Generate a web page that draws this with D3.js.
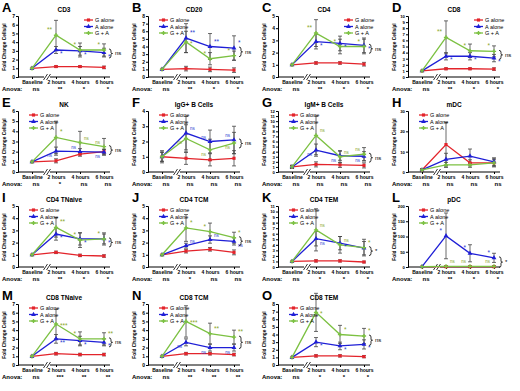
<!DOCTYPE html>
<html>
<head>
<meta charset="utf-8">
<script src="https://d3js.org/d3.v7.min.js"></script>
<style>
  body { margin: 0; background: #fff; }
  svg { font-family: "Liberation Sans", Arial, sans-serif; }
</style>
</head>
<body>
<div id="chart"></div>
<script>
// ---- data ----
const letters = ["A","B","C","D","E","F","G","H","I","J","K","L","M","N","O"];
const titles = ["CD3","CD20","CD4","CD8","NK","IgG+ B Cells","IgM+ B Cells","mDC",
                "CD4 TNaive","CD4 TCM","CD4 TEM","pDC","CD8 TNaive","CD8 TCM","CD8 TEM"];
const timepoints = ["Baseline","2 hours","4 hours","6 hours"];
const yMax = [7,8,5,10,6,4,12,30,5,5,11,200,7,7,8];
const yStep = [1,1,1,1,1,1,1,10,1,1,1,50,1,1,1];

const gAlone = [[1,1.2,1.2,1.1],[1,1.1,1.0,0.9],[1,1.15,1.15,1.05],[1,1.35,1.35,1.3],
  [1,1.1,1.75,2.0],[1,0.9,0.8,0.9],[1,1.5,1.4,1.3],[1,13.5,4.5,4.5],
  [1,1.2,0.95,0.9],[1,1.3,1.45,1.2],[1,1.1,1.1,0.9],[1,1,1,1],
  [1,1.3,1.2,1.2],[1,1.3,1.3,1.2],[1,1.2,1.2,1.1]];
const aAlone = [[1,3.1,3.0,2.8],[1,5.1,4.0,3.8],[1,2.9,2.75,2.6],[1,3.4,3.4,3.1],
  [1,2.05,2.0,1.95],[1,2.55,2.0,2.1],[1,4.3,3.2,3.1],[1,6.2,7.8,5.0],
  [1,2.7,2.3,2.3],[1,1.75,2.25,2.1],[1,5.1,4.3,3.4],[1,102,45,30],
  [1,3.0,2.8,2.6],[1,2.6,2.0,2.0],[1,3.0,2.5,2.7]];
const gPlusA = [[1,4.8,3.1,3.1],[1,4.6,2.4,2.8],[1,3.6,2.5,2.5],[1,6.5,4.3,4.2],
  [1,3.4,2.9,2.5],[1,2.2,1.45,1.9],[1,7.2,3.0,3.5],[1,3.5,3.5,4.5],
  [1,3.25,2.2,2.3],[1,3.2,2.9,2.4],[1,6.7,4.0,3.5],[1,2,2,2],
  [1,4.7,3.0,3.0],[1,5.0,3.6,3.2],[1,6.9,4.0,3.8]];

const gErr = [[0,.1,.1,.15],[0,.3,.3,.3],[0,.1,.1,.15],[0,.15,.15,.2],
  [0,.2,.2,.2],[.3,.4,.4,.5],[.3,.5,.5,.5],[.5,11,1.5,1.5],
  [0,.1,.1,.1],[0,.15,.15,.2],[0,.2,.2,.15],[0,1,1,1],
  [0,.15,.15,.15],[0,.15,.15,.15],[0,.15,.15,.15]];
const aErr = [[0,.4,.5,.5],[0,1.9,1.7,1.6],[0,.6,.6,.6],[0,.6,.6,.6],
  [0,.4,.3,.3],[.4,1.1,.75,.9],[.3,1.2,.9,.9],[.5,3,3.5,2],
  [0,.5,.5,.4],[0,.2,.3,.3],[0,1.3,1.2,1.2],[0,75,28,15],
  [0,.5,.5,.4],[0,.4,.4,.4],[0,.6,.5,.6]];
const gaErr = [[0,1.7,.8,.7],[0,1.4,.8,.6],[0,1.1,.6,.6],[0,2.7,1.1,.9],
  [0,1.6,1.1,.8],[.3,.9,.7,.7],[.3,3.8,1.2,1.3],[.5,1.2,1.2,2],
  [0,.8,.6,.5],[0,1.1,.7,.45],[0,3.8,1.5,1.5],[0,2,2,2],
  [0,1.7,.8,.7],[0,1.8,1.2,.8],[0,2.5,1.2,1.0]];

const anova = [["ns","**","*","*"],["ns","**","*","*"],["ns","**","*","*"],["ns","**","*","*"],
  ["ns","*","ns","ns"],["ns","ns","ns","ns"],["ns","ns","ns","ns"],["ns","ns","ns","ns"],
  ["ns","**","*","*"],["ns","*","ns","ns"],["ns","*","*","*"],["ns","**","*","*"],
  ["ns","***","**","**"],["ns","**","**","**"],["ns","*","*","*"]];
const bracketText = ["ns","ns","ns","ns","ns","ns","ns","","ns","ns","*","*","ns","ns","ns"];
const legendRight = [true,false,true,true,false,false,false,false,false,false,false,false,false,false,false];

// significance marks: [time index, series, text, corner]
const marks = [
  [[1,"ga","**","ul"],[2,"ga","*","ul"],[3,"ga","*","ul"],[1,"a","*","dr"],[2,"a","*","dr"],[3,"a","*","dr"]],
  [[1,"ga","*","mr"],[2,"ga","*","ul"],[3,"ga","*","ul"],[1,"a","**","ur"],[2,"a","**","ur"],[3,"a","*","ur"]],
  [[1,"ga","**","ul"],[2,"ga","*","ul"],[3,"ga","*","ul"],[1,"a","*","dr"],[2,"a","*","dr"],[3,"a","*","dr"]],
  [[1,"ga","**","ul"],[2,"ga","*","ul"],[3,"ga","*","ul"],[1,"a","*","dr"],[2,"a","*","dr"],[3,"a","*","dr"]],
  [[1,"ga","*","ur"],[2,"ga","ns","ur"],[3,"ga","ns","ul"],[1,"a","ns","dl"],[2,"a","ns","ul"],[3,"a","ns","dl"]],
  [[1,"a","ns","ur"],[2,"a","ns","ul"],[3,"a","ns","ul"],[1,"ga","ns","dl"],[2,"ga","ns","dl"],[3,"ga","ns","dl"]],
  [[1,"ga","ns","ur"],[2,"ga","ns","ur"],[3,"ga","ns","ul"],[1,"a","ns","dl"],[2,"a","ns","dl"],[3,"a","ns","dl"]],
  [],
  [[1,"ga","**","ur"],[2,"ga","*","ul"],[3,"ga","*","ul"],[1,"a","*","dr"],[2,"a","*","dr"],[3,"a","*","dr"]],
  [[1,"ga","*","ur"],[2,"ga","*","ul"],[3,"ga","*","ur"],[1,"a","ns","ur"],[2,"a","ns","ur"],[3,"a","ns","dr"]],
  [[1,"ga","ns","ur"],[2,"ga","ns","ur"],[3,"ga","*","ur"],[1,"a","ns","dr"],[2,"a","*","dr"]],
  [[1,"a","*","ul"],[2,"a","*","ul"],[3,"a","*","ul"],[1,"ga","ns","ur"],[2,"ga","ns","ul"],[3,"ga","ns","ul"]],
  [[1,"ga","***","mr"],[2,"ga","*","ul"],[3,"ga","**","ur"],[1,"a","**","dr"],[2,"a","*","dr"],[3,"a","*","dr"]],
  [[1,"ga","***","mr"],[2,"ga","**","ur"],[3,"ga","**","ur"],[1,"a","ns","dl"],[2,"a","ns","dl"],[3,"a","ns","dl"]],
  [[1,"ga","*","mr"],[2,"ga","*","ur"],[3,"ga","*","ur"],[1,"a","*","dr"],[2,"a","*","dr"],[3,"a","*","dr"]]
];

const seriesNames = ["G alone","A alone","G + A"];
const colors = {g:"#e3242b", a:"#1f1fd6", ga:"#7cc142"};
const markColors = {g:"#e3242b", a:"#2c3ccf", ga:"#8aa62a"};

// ---- layout ----
const W = 520, H = 391;
const colX = [0,130,260,390];
const rowY = [0,95,190,288];

const svg = d3.select("#chart").append("svg").attr("width", W).attr("height", H);

const sym = {
  g: d3.symbol().type(d3.symbolSquare).size(10),
  a: d3.symbol().type(d3.symbolTriangle).size(10),
  ga: d3.symbol().type(d3.symbolCross).size(10)
};

letters.forEach(function(L, i) {
  const px = colX[i % 4], py = rowY[Math.floor(i / 4)];
  const g = svg.append("g").attr("transform", "translate(" + px + "," + py + ")");

  g.append("text").attr("x", 2).attr("y", 12).attr("font-size", 13).attr("font-weight", "bold").text(L);
  g.append("text").attr("x", 64).attr("y", 12).attr("text-anchor", "middle")
    .attr("font-size", 6.5).attr("font-weight", "bold").text(titles[i]);

  const x = d3.scalePoint().domain(timepoints).range([32, 104]);
  const y = d3.scaleLinear().domain([0, yMax[i]]).range([77, 16]);
  const ticks = d3.range(0, yMax[i] + 0.001, yStep[i]);

  // axes
  const ya = g.append("g").attr("transform", "translate(18,0)")
    .call(d3.axisLeft(y).tickValues(ticks).tickSize(2).tickPadding(1).tickFormat(d3.format("d")));
  const xa = g.append("g").attr("transform", "translate(0,77)")
    .call(d3.axisBottom(x).tickSize(2).tickPadding(1));
  [ya, xa].forEach(function(a) {
    a.select(".domain").attr("stroke", "#000").attr("stroke-width", 1);
    a.selectAll("line").attr("stroke", "#000");
    a.selectAll("text").attr("font-size", 5).attr("font-weight", "bold")
      .attr("font-family", "Liberation Sans, Arial, sans-serif");
  });
  ya.selectAll("text").attr("font-size", yMax[i] > 9 ? 4.3 : 5);
  xa.select(".domain").attr("d", "M18,0H110");

  // axis break
  const bx = (x("Baseline") + x("2 hours")) / 2 + 3;
  g.append("rect").attr("x", bx - 3).attr("y", 75).attr("width", 6).attr("height", 5).attr("fill", "#fff");
  [-1.5, 1.5].forEach(function(o) {
    g.append("line").attr("x1", bx + o - 2).attr("y1", 80).attr("x2", bx + o + 2).attr("y2", 74)
      .attr("stroke", "#000").attr("stroke-width", 0.8);
  });

  // y label
  g.append("text").attr("transform", "translate(6,47) rotate(-90)").attr("text-anchor", "middle")
    .attr("font-size", 4.8).attr("font-weight", "bold").text("Fold Change Cells/µl");

  // anova row
  g.append("text").attr("x", 2).attr("y", 91).attr("font-size", 6).attr("font-weight", "bold").text("Anova:");
  timepoints.forEach(function(t, k) {
    g.append("text").attr("x", x(t) + 4).attr("y", 91).attr("text-anchor", "middle")
      .attr("font-size", 6).attr("font-weight", "bold").text(anova[i][k]);
  });

  const series = [
    {key: "g", v: gAlone[i], e: gErr[i]},
    {key: "a", v: aAlone[i], e: aErr[i]},
    {key: "ga", v: gPlusA[i], e: gaErr[i]}
  ];
  const line = d3.line().x(function(d, k) { return x(timepoints[k]); }).y(function(d) { return y(d); });

  // error bars
  series.forEach(function(s) {
    s.v.forEach(function(v, k) {
      if (!s.e[k]) return;
      const cx = x(timepoints[k]);
      const lo = y(Math.max(0, v - s.e[k])), hi = y(v + s.e[k]);
      const eb = g.append("g").attr("stroke", "#444").attr("stroke-width", 0.8);
      eb.append("line").attr("x1", cx).attr("x2", cx).attr("y1", lo).attr("y2", hi);
      eb.append("line").attr("x1", cx - 2).attr("x2", cx + 2).attr("y1", lo).attr("y2", lo);
      eb.append("line").attr("x1", cx - 2).attr("x2", cx + 2).attr("y1", hi).attr("y2", hi);
    });
  });

  // lines and markers
  series.forEach(function(s) {
    g.append("path").attr("d", line(s.v)).attr("fill", "none")
      .attr("stroke", colors[s.key]).attr("stroke-width", 1.3);
    g.selectAll(null).data(s.v).enter().append("path")
      .attr("d", sym[s.key])
      .attr("transform", function(d, k) { return "translate(" + x(timepoints[k]) + "," + y(d) + ")"; })
      .attr("fill", colors[s.key]);
  });

  // significance marks
  const vals = {g: gAlone[i], a: aAlone[i], ga: gPlusA[i]};
  marks[i].forEach(function(m) {
    const cx = x(timepoints[m[0]]), cy = y(vals[m[1]][m[0]]);
    const dx = m[3][1] === "l" ? -4 : 4;
    const dy = m[3][0] === "u" ? -3 : (m[3][0] === "m" ? 4 : 6);
    g.append("text").attr("x", cx + dx).attr("y", cy + dy)
      .attr("text-anchor", dx < 0 ? "end" : "start")
      .attr("font-size", m[2] === "ns" ? 4.5 : 6.5).attr("fill", markColors[m[1]]).text(m[2]);
  });

  // bracket at 6 h
  if (bracketText[i]) {
    const y1 = Math.min(y(aAlone[i][3]), y(gPlusA[i][3])) - 1;
    const y2 = Math.max(y(aAlone[i][3]), y(gPlusA[i][3]), y1 + 8) + 1;
    const bxr = 109, ym = (y1 + y2) / 2;
    g.append("path").attr("fill", "none").attr("stroke", "#000").attr("stroke-width", 0.8)
      .attr("d", "M" + bxr + "," + y1 + " q2,0 2,2 v" + (ym - y1 - 3) + " q0,1 1.5,1 q-1.5,0 -1.5,1 v" +
        (y2 - ym - 3) + " q0,2 -2,2");
    g.append("text").attr("x", 115).attr("y", ym + 2).attr("font-size", 6).text(bracketText[i]);
  }

  // legend
  const lx = legendRight[i] ? 84 : 29;
  seriesNames.forEach(function(nm, k) {
    const key = ["g","a","ga"][k];
    const ly = 20 + k * 6.5;
    g.append("line").attr("x1", lx).attr("x2", lx + 9).attr("y1", ly).attr("y2", ly)
      .attr("stroke", colors[key]).attr("stroke-width", 1.3);
    g.append("path").attr("d", sym[key]).attr("transform", "translate(" + (lx + 4.5) + "," + ly + ")")
      .attr("fill", colors[key]);
    g.append("text").attr("x", lx + 11).attr("y", ly + 2).attr("font-size", 5.5).text(nm);
  });
});
</script>
</body>
</html>
